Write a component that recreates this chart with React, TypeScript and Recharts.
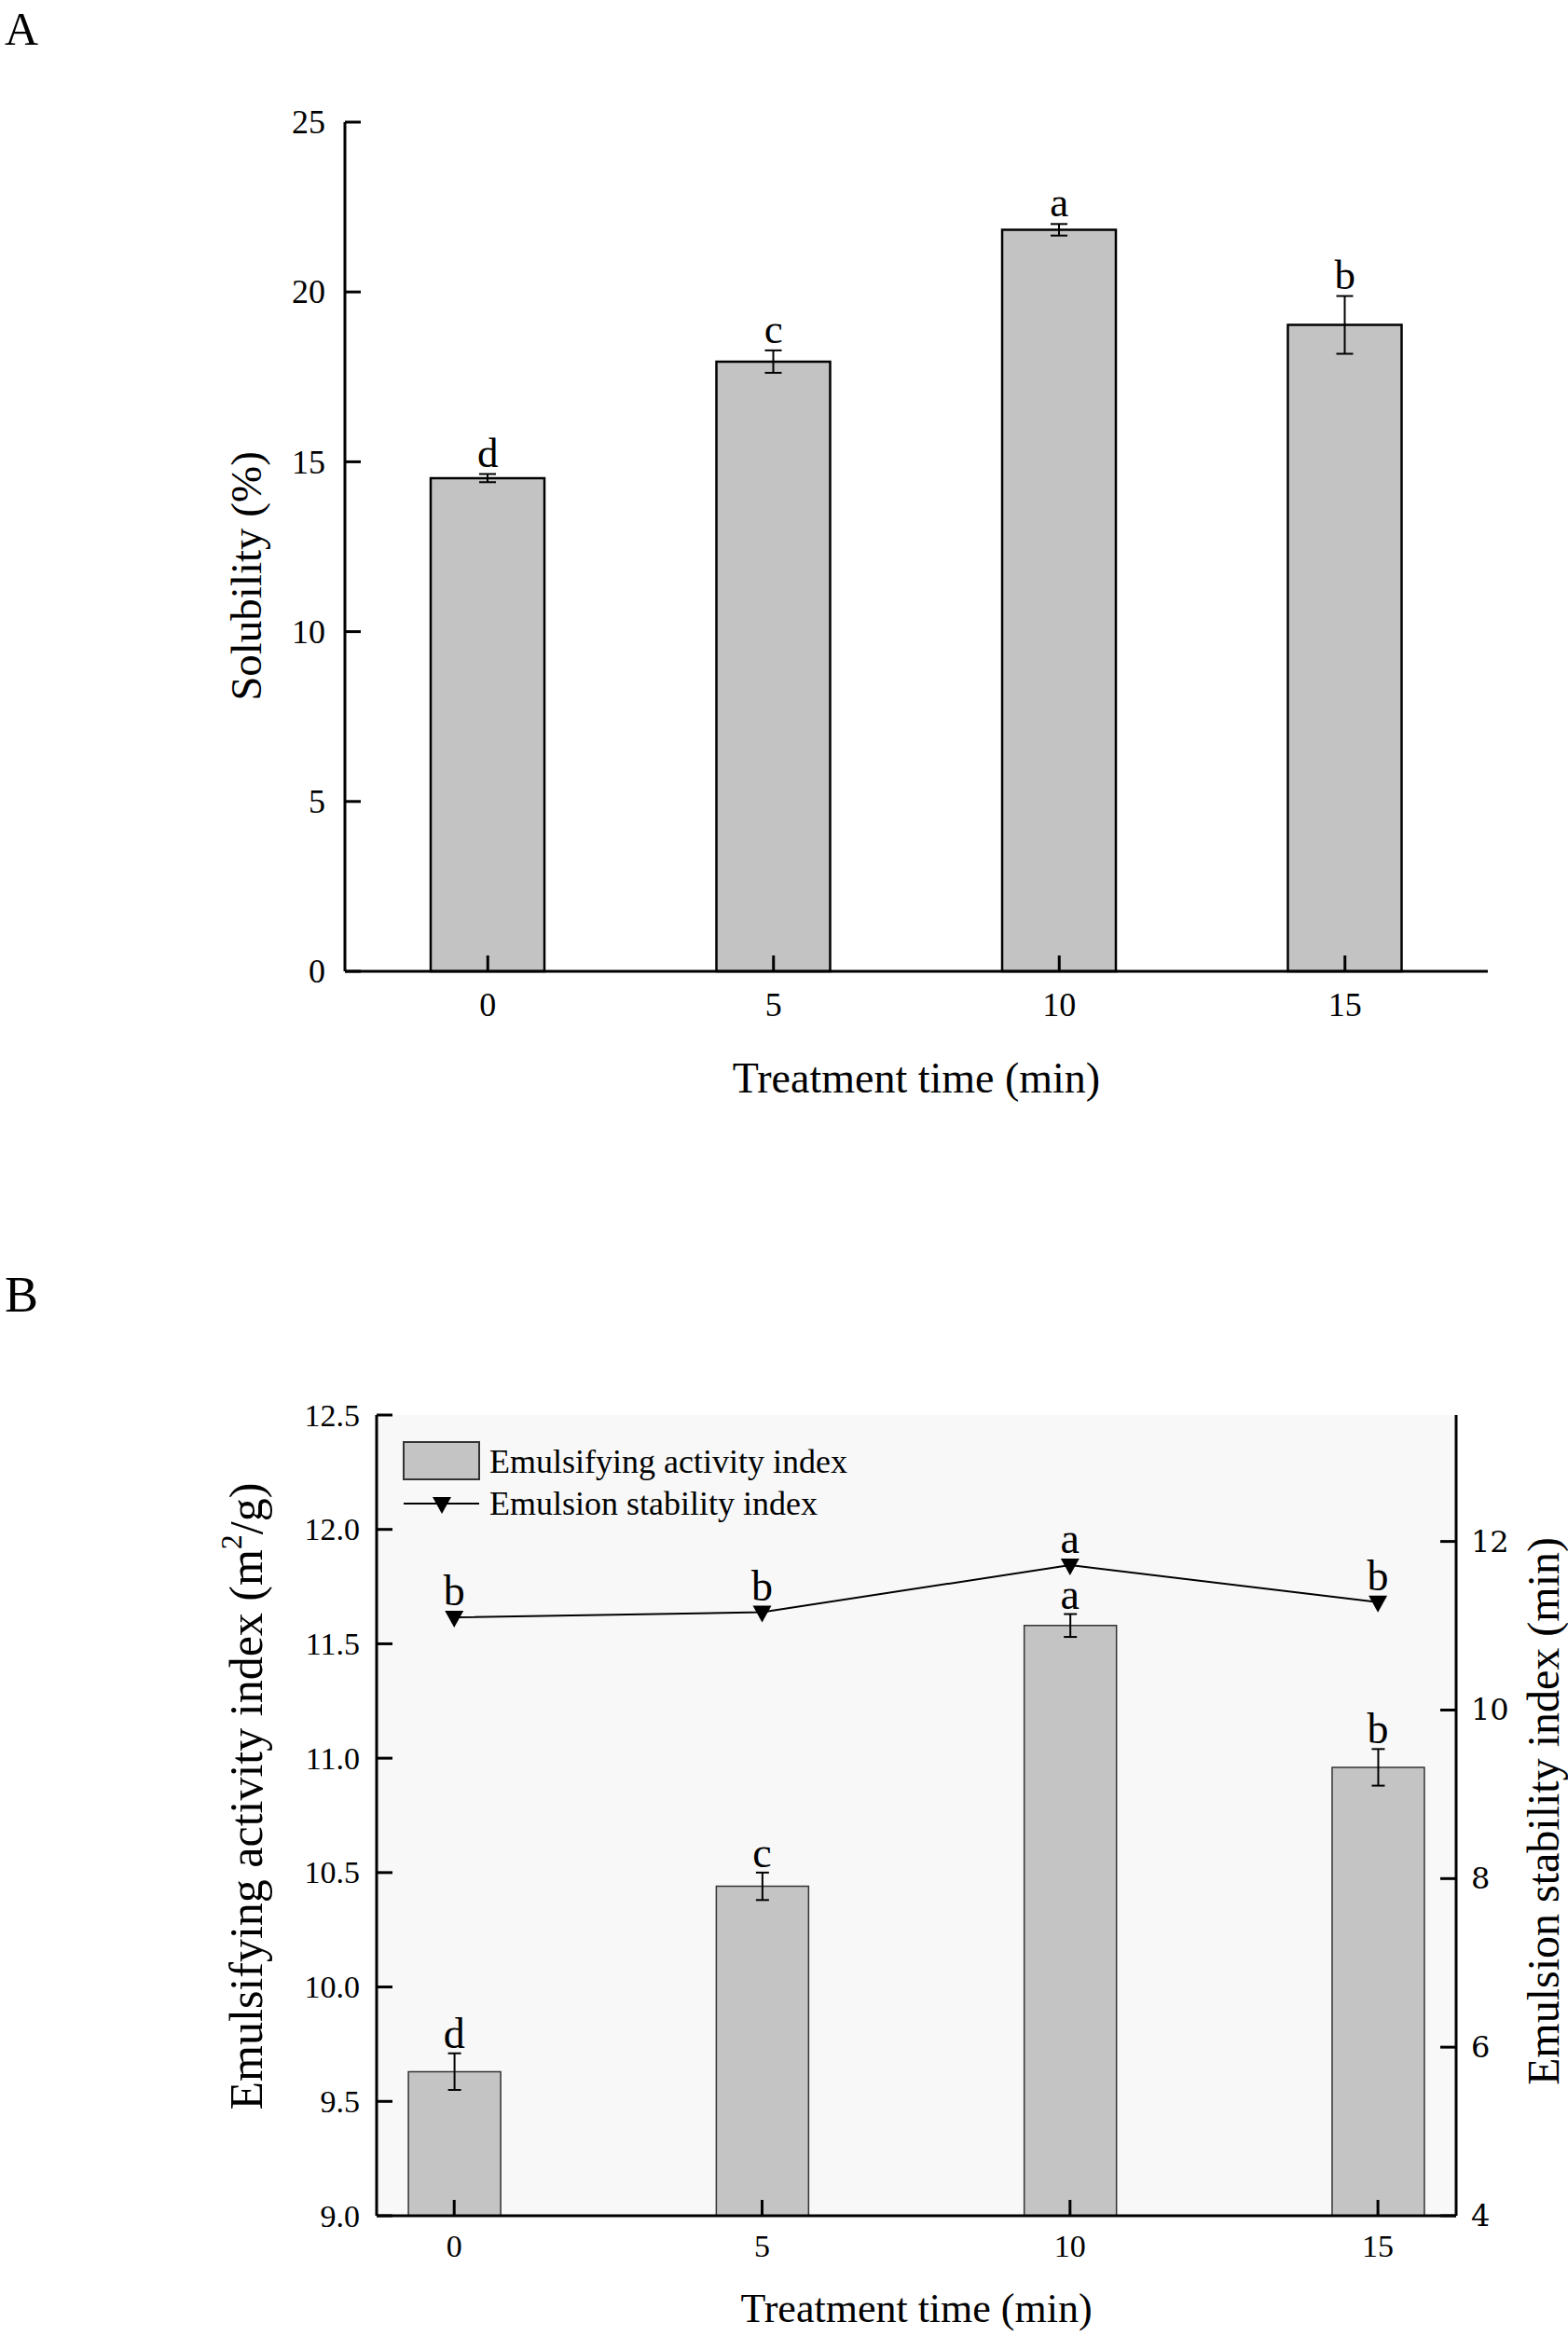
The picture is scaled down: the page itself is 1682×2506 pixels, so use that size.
import React from "react";
import {
  ComposedChart,
  Bar,
  Line,
  XAxis,
  YAxis,
  ErrorBar,
  CartesianGrid,
  LabelList,
  Legend,
} from "recharts";

// treatment times (min)
const minutes = [0, 5, 10, 15];

// panel A: solubility (%)
const solubility = [14.52, 17.95, 21.83, 19.03];
const solubilityErr = [0.12, 0.33, 0.17, 0.85];
const solubilityLetters = ["d", "c", "a", "b"];
const solubilityTicks = [0, 5, 10, 15, 20, 25];

// panel B: emulsifying activity index (m2/g) and emulsion stability index (min)
const eai = [9.63, 10.44, 11.58, 10.96];
const eaiErr = [0.08, 0.06, 0.05, 0.08];
const eaiLetters = ["d", "c", "a", "b"];
const esi = [11.1, 11.16, 11.72, 11.28];
const esiLetters = ["b", "b", "a", "b"];
const eaiTicks = [9.0, 9.5, 10.0, 10.5, 11.0, 11.5, 12.0, 12.5];
const esiTicks = [4, 6, 8, 10, 12];

const SERIF = '"Liberation Serif", "Times New Roman", serif';
const WIDE_SERIF = '"DejaVu Serif", serif';

const solData = minutes.map((t, i) => ({
  time: String(t),
  sol: solubility[i],
  err: solubilityErr[i],
  top: solubility[i] + solubilityErr[i],
  letter: solubilityLetters[i],
}));

const emData = minutes.map((t, i) => ({
  time: t,
  eai: eai[i],
  err: eaiErr[i],
  top: eai[i] + eaiErr[i],
  letter: eaiLetters[i],
  esi: esi[i],
  esiLetter: esiLetters[i],
}));

// ticks point inward, labels sit outside
const bottomTick = (fontSize: number, dy: number) => (props: any) => {
  const { x, y, payload } = props;
  return (
    <g>
      <line x1={x} y1={y} x2={x} y2={y - 17} stroke="#000" strokeWidth={3} />
      <text x={x} y={y + dy} textAnchor="middle" fontFamily={SERIF} fontSize={fontSize} fill="#000">
        {payload.value}
      </text>
    </g>
  );
};

const leftTick = (fontSize: number, gap: number, fmt: (v: number) => string) => (props: any) => {
  const { x, y, payload } = props;
  return (
    <g>
      <line x1={x} y1={y} x2={x + 17} y2={y} stroke="#000" strokeWidth={3} />
      <text x={x - gap} y={y + fontSize * 0.34} textAnchor="end" fontFamily={SERIF} fontSize={fontSize} fill="#000">
        {fmt(payload.value)}
      </text>
    </g>
  );
};

const rightTick = (props: any) => {
  const { x, y, payload } = props;
  return (
    <g>
      <line x1={x} y1={y} x2={x - 17} y2={y} stroke="#000" strokeWidth={3} />
      <text x={x + 16} y={y + 11} textAnchor="start" fontFamily={WIDE_SERIF} fontSize={32} fill="#000">
        {payload.value}
      </text>
    </g>
  );
};

const letterLabel = (fontSize: number, lift: number) => (props: any) => {
  const { x, y, value } = props;
  if (x == null || y == null) return null;
  return (
    <text x={x} y={y - lift} textAnchor="middle" fontFamily={SERIF} fontSize={fontSize} fill="#000">
      {value}
    </text>
  );
};

const DownTriangle = (props: any) => {
  const { cx, cy, index } = props;
  if (cx == null || cy == null) return <g key={index} />;
  return <path key={index} d={`M${cx - 10},${cy - 7} L${cx + 10},${cy - 7} L${cx},${cy + 11} Z`} fill="#000" />;
};

const EmulsionLegend = () => (
  <svg width={520} height={100} style={{ display: "block" }}>
    <rect x={4} y={7} width={81} height={40} fill="#c4c4c4" stroke="#333" strokeWidth={2} />
    <text x={96} y={40} fontFamily={SERIF} fontSize={36} fill="#000">
      Emulsifying activity index
    </text>
    <line x1={4} y1={73} x2={85} y2={73} stroke="#000" strokeWidth={2} />
    <path d="M35,66 L55,66 L45,84 Z" fill="#000" />
    <text x={96} y={85} fontFamily={SERIF} fontSize={36} fill="#000">
      Emulsion stability index
    </text>
  </svg>
);

function SolubilityChart() {
  return (
    <ComposedChart
      width={1682}
      height={1250}
      data={solData}
      margin={{ top: 131, right: 86, bottom: 128, left: 270 }}
    >
      <Bar dataKey="sol" barSize={122} fill="#c3c3c3" stroke="#000" strokeWidth={2.5} isAnimationActive={false}>
        <ErrorBar dataKey="err" width={9} stroke="#000" strokeWidth={2} direction="y" />
      </Bar>
      <Line dataKey="top" stroke="none" dot={false} activeDot={false} isAnimationActive={false}>
        <LabelList dataKey="letter" content={letterLabel(45, 8)} />
      </Line>
      <XAxis
        dataKey="time"
        type="category"
        height={80}
        axisLine={{ stroke: "#000", strokeWidth: 3 }}
        tickLine={false}
        tickSize={0}
        tickMargin={0}
        tick={bottomTick(36, 48)}
        interval={0}
      />
      <YAxis
        domain={[0, 25]}
        ticks={solubilityTicks}
        width={100}
        axisLine={{ stroke: "#000", strokeWidth: 3 }}
        tickLine={false}
        tickSize={0}
        tickMargin={0}
        tick={leftTick(36, 21, (v) => String(v))}
        interval={0}
      />
    </ComposedChart>
  );
}

function EmulsionChart() {
  return (
    <ComposedChart
      width={1682}
      height={1206}
      data={emData}
      margin={{ top: 218, right: 20, bottom: 49, left: 304 }}
    >
      <CartesianGrid xAxisId="b" yAxisId="left" horizontal={false} vertical={false} fill="#f8f8f8" />
      <Bar
        dataKey="eai"
        xAxisId="b"
        yAxisId="left"
        barSize={99}
        fill="#c4c4c4"
        stroke="#333"
        strokeWidth={1.5}
        isAnimationActive={false}
      >
        <ErrorBar dataKey="err" width={7} stroke="#000" strokeWidth={2} direction="y" />
      </Bar>
      <Line
        dataKey="top"
        xAxisId="b"
        yAxisId="left"
        stroke="none"
        dot={false}
        activeDot={false}
        isAnimationActive={false}
      >
        <LabelList dataKey="letter" content={letterLabel(46, 6)} />
      </Line>
      <Line
        dataKey="esi"
        xAxisId="b"
        yAxisId="right"
        type="linear"
        stroke="#000"
        strokeWidth={2}
        dot={DownTriangle}
        activeDot={false}
        isAnimationActive={false}
      >
        <LabelList dataKey="esiLetter" content={letterLabel(46, 13)} />
      </Line>
      <XAxis
        xAxisId="b"
        dataKey="time"
        type="number"
        domain={[-1.26, 16.27]}
        allowDataOverflow
        ticks={minutes}
        height={80}
        axisLine={{ stroke: "#000", strokeWidth: 3 }}
        tickLine={false}
        tickSize={0}
        tickMargin={0}
        tick={bottomTick(34, 44)}
        interval={0}
      />
      <XAxis
        xAxisId="top"
        orientation="top"
        dataKey="time"
        type="number"
        domain={[-1.26, 16.27]}
        allowDataOverflow
        height={0}
        tick={false}
        tickLine={false}
        axisLine={{ stroke: "#000", strokeWidth: 2.5 }}
      />
      <YAxis
        yAxisId="left"
        domain={[9, 12.5]}
        ticks={eaiTicks}
        width={100}
        axisLine={{ stroke: "#000", strokeWidth: 3 }}
        tickLine={false}
        tickSize={0}
        tickMargin={0}
        tick={leftTick(34, 18, (v) => v.toFixed(1))}
        interval={0}
      />
      <YAxis
        yAxisId="right"
        orientation="right"
        domain={[4, 13.5]}
        ticks={esiTicks}
        width={100}
        axisLine={{ stroke: "#000", strokeWidth: 3 }}
        tickLine={false}
        tickSize={0}
        tickMargin={0}
        tick={rightTick}
        interval={0}
      />
      <Legend
        layout="vertical"
        align="center"
        verticalAlign="middle"
        content={EmulsionLegend}
        wrapperStyle={{ left: 429, top: 240, width: 520, height: 100 }}
      />
    </ComposedChart>
  );
}

export default function App() {
  return (
    <div style={{ position: "absolute", left: 0, top: 0, width: 1682, height: 2506, background: "#fff" }}>
      <div style={{ position: "absolute", left: 0, top: 0 }}>
        <SolubilityChart />
      </div>
      <div style={{ position: "absolute", left: 0, top: 1300 }}>
        <EmulsionChart />
      </div>
      <svg
        width={1682}
        height={2506}
        style={{ position: "absolute", left: 0, top: 0, pointerEvents: "none" }}
        fontFamily={SERIF}
        fill="#000"
      >
        <text x={5} y={48} fontSize={50}>A</text>
        <text x={5} y={1407} fontSize={54}>B</text>
        <text x={983} y={1172} fontSize={46} textAnchor="middle">Treatment time (min)</text>
        <text x={264} y={618} fontSize={47} textAnchor="middle" dominantBaseline="central" transform="rotate(-90 264 618)">
          Solubility (%)
        </text>
        <text x={983} y={2491} fontSize={44} textAnchor="middle">Treatment time (min)</text>
        <text x={264} y={1927} fontSize={50} textAnchor="middle" dominantBaseline="central" transform="rotate(-90 264 1927)">
          Emulsifying activity index (m
          <tspan fontSize={32} dy={-16}>2</tspan>
          <tspan dy={16}>/g)</tspan>
        </text>
        <text x={1655} y={1943} fontSize={48} textAnchor="middle" dominantBaseline="central" transform="rotate(-90 1655 1943)">
          Emulsion stability index (min)
        </text>
      </svg>
    </div>
  );
}
